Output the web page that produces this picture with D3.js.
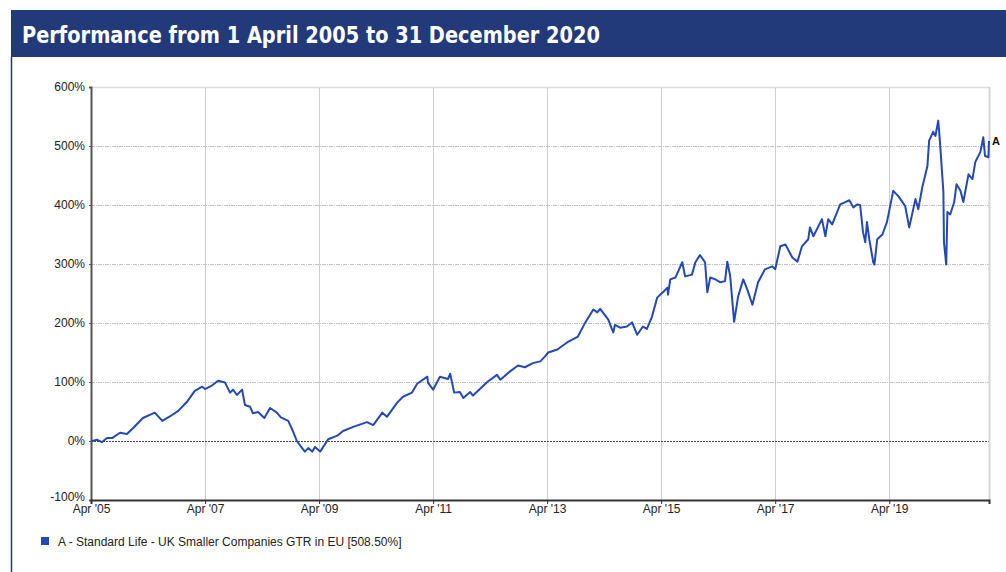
<!DOCTYPE html>
<html>
<head>
<meta charset="utf-8">
<script src="https://cdn.jsdelivr.net/npm/d3@7"></script>
<style>
  body { margin: 0; background: #fff; }
  text { font-family: "Liberation Sans", Arial, sans-serif; }
</style>
</head>
<body>
<svg width="1006" height="572"></svg>
<script>
// Chart data (decimal years, % growth)
const years = [
  2005.25, 2005.27, 2005.36, 2005.44, 2005.53, 2005.62, 2005.76, 2005.88, 2005.99, 2006.16,
  2006.37, 2006.50, 2006.64, 2006.78, 2006.93, 2007.07, 2007.20, 2007.25, 2007.37, 2007.48,
  2007.60, 2007.69, 2007.74, 2007.81, 2007.90, 2007.95, 2008.04, 2008.09, 2008.18, 2008.29,
  2008.39, 2008.51, 2008.58, 2008.71, 2008.79, 2008.86, 2009.00, 2009.06, 2009.13, 2009.18,
  2009.27, 2009.41, 2009.57, 2009.67, 2009.85, 2010.09, 2010.20, 2010.36, 2010.44, 2010.62,
  2010.72, 2010.88, 2010.97, 2011.15, 2011.16, 2011.25, 2011.37, 2011.51, 2011.55, 2011.62,
  2011.72, 2011.78, 2011.90, 2011.95, 2012.20, 2012.37, 2012.43, 2012.60, 2012.74, 2012.86,
  2013.00, 2013.13, 2013.21, 2013.27, 2013.43, 2013.60, 2013.79, 2013.92, 2014.06, 2014.13,
  2014.18, 2014.32, 2014.41, 2014.44, 2014.53, 2014.65, 2014.74, 2014.83, 2014.93, 2015.00,
  2015.09, 2015.18, 2015.29, 2015.36, 2015.37, 2015.41, 2015.50, 2015.62, 2015.67, 2015.79,
  2015.85, 2015.93, 2016.02, 2016.06, 2016.11, 2016.20, 2016.29, 2016.37, 2016.41, 2016.46,
  2016.53, 2016.60, 2016.69, 2016.76, 2016.85, 2016.95, 2017.07, 2017.20, 2017.25, 2017.34,
  2017.43, 2017.55, 2017.64, 2017.72, 2017.83, 2017.86, 2017.92, 2018.07, 2018.13, 2018.18,
  2018.25, 2018.39, 2018.48, 2018.55, 2018.62, 2018.69, 2018.74, 2018.79, 2018.83, 2018.86,
  2018.90, 2018.97, 2018.99, 2019.04, 2019.13, 2019.21, 2019.32, 2019.41, 2019.53, 2019.60,
  2019.71, 2019.76, 2019.83, 2019.92, 2019.95, 2020.02, 2020.06, 2020.11, 2020.14, 2020.20,
  2020.21, 2020.25, 2020.27, 2020.32, 2020.39, 2020.43, 2020.50, 2020.55, 2020.64, 2020.71,
  2020.76, 2020.85, 2020.90, 2020.93, 2020.99, 2021.00
];
const growth = [
  0, 0, 2, -2, 5, 5, 14, 12, 22, 39,
  48, 34, 42, 51, 66, 85, 92, 88, 94, 102,
  99, 82, 87, 78, 87, 61, 58, 47, 49, 39,
  56, 48, 40, 34, 17, 0, -18, -12, -18, -10,
  -18, 3, 9, 17, 24, 32, 27, 48, 41, 65,
  75, 82, 97, 109, 99, 87, 109, 105, 114, 82,
  83, 73, 83, 77, 100, 112, 104, 118, 128, 125,
  132, 135, 143, 150, 155, 167, 177, 201, 223, 218,
  224, 206, 184, 197, 192, 194, 201, 180, 194, 190,
  211, 243, 253, 260, 248, 274, 277, 303, 279, 282,
  303, 315, 303, 252, 277, 274, 269, 271, 304, 280,
  202, 245, 274, 257, 231, 269, 291, 296, 291, 330,
  333, 311, 304, 330, 342, 362, 347, 376, 347, 376,
  367, 401, 405, 408, 396, 401, 400, 354, 337, 371,
  342, 303, 299, 342, 350, 371, 424, 415, 398, 362,
  410, 393, 430, 466, 509, 524, 517, 543, 507, 422,
  337, 299, 388, 384, 405, 435, 424, 405, 452, 444,
  473, 490, 515, 483, 481, 508.5
];

const yTicks = [-100, 0, 100, 200, 300, 400, 500, 600];
const xTicks = [2005.25, 2007.25, 2009.25, 2011.25, 2013.25, 2015.25, 2017.25, 2019.25];
const xTickLabels = ["Apr '05", "Apr '07", "Apr '09", "Apr '11", "Apr '13", "Apr '15", "Apr '17", "Apr '19"];

const title = "Performance from 1 April 2005 to 31 December 2020";
const seriesName = "A - Standard Life - UK Smaller Companies GTR in EU [508.50%]";

const data = years.map((t, i) => ({ t: t, v: growth[i] }));

const svg = d3.select("svg");
const navy = "#233a7a";
const lineColor = "#2549b3";

// header bar and panel border
svg.append("rect")
  .attr("x", 11).attr("y", 10)
  .attr("width", 995).attr("height", 47)
  .attr("fill", navy);

svg.append("text")
  .attr("x", 22).attr("y", 43)
  .attr("fill", "#fff")
  .attr("font-weight", "bold")
  .attr("font-size", 23)
  .attr("textLength", 578)
  .attr("lengthAdjust", "spacingAndGlyphs")
  .style("font-family", "'DejaVu Sans Condensed', 'DejaVu Sans', sans-serif")
  .text(title);

svg.append("line")
  .attr("x1", 11.5).attr("x2", 11.5)
  .attr("y1", 57).attr("y2", 572)
  .attr("stroke", navy).attr("stroke-width", 1.5);

// scales
const plotL = 91, plotR = 989, plotT = 87, plotB = 500;
const x = d3.scaleLinear().domain([2005.25, 2021.0]).range([plotL, plotR]);
const y = d3.scaleLinear().domain([-100, 600]).range([plotB, plotT]);

// vertical grid
svg.append("g")
  .selectAll("line")
  .data(xTicks.slice(1))
  .join("line")
  .attr("x1", d => Math.round(x(d)) + 0.5).attr("x2", d => Math.round(x(d)) + 0.5)
  .attr("y1", plotT).attr("y2", plotB)
  .attr("stroke", "#cfcfcf").attr("stroke-width", 1);

// horizontal grid
svg.append("g")
  .selectAll("line")
  .data(yTicks.filter(d => d > -100 && d < 600))
  .join("line")
  .attr("x1", plotL).attr("x2", plotR)
  .attr("y1", d => Math.round(y(d)) + 0.5).attr("y2", d => Math.round(y(d)) + 0.5)
  .attr("stroke", d => d === 0 ? "#444" : "#c4c4c4")
  .attr("stroke-width", 1)
  .attr("stroke-dasharray", d => d === 0 ? "2,1" : "4,1,1,1");

// plot frame (top + right)
svg.append("line")
  .attr("x1", plotL).attr("x2", plotR + 1)
  .attr("y1", plotT + 0.5).attr("y2", plotT + 0.5)
  .attr("stroke", "#dcdcdc").attr("stroke-width", 1.5);
svg.append("line")
  .attr("x1", plotR + 0.5).attr("x2", plotR + 0.5)
  .attr("y1", plotT).attr("y2", plotB)
  .attr("stroke", "#d6d6d6").attr("stroke-width", 2);

// axes
const yAxis = svg.append("g")
  .attr("transform", `translate(${plotL},0)`)
  .call(d3.axisLeft(y).tickValues(yTicks).tickSize(2).tickFormat(d => d + "%"));
yAxis.select(".domain").attr("stroke", "#555").attr("stroke-width", 2);
yAxis.selectAll(".tick line").attr("stroke", "#555");
yAxis.selectAll("text")
  .attr("x", -6)
  .attr("dy", d => d === -100 ? "0.05em" : "0.32em")
  .attr("font-family", "'Liberation Sans', Arial, sans-serif")
  .attr("font-size", 12).attr("fill", "#222");

const xAxis = svg.append("g")
  .attr("transform", `translate(0,${plotB})`)
  .call(d3.axisBottom(x).tickValues(xTicks).tickSize(4).tickFormat((d, i) => xTickLabels[i]));
xAxis.select(".domain").attr("stroke", "#333").attr("stroke-width", 2);
xAxis.selectAll(".tick line").attr("stroke", "#333");
xAxis.selectAll("text")
  .attr("y", 4)
  .attr("font-family", "'Liberation Sans', Arial, sans-serif")
  .attr("font-size", 12).attr("fill", "#222");

// series line
const line = d3.line()
  .x(d => x(d.t))
  .y(d => y(d.v));

svg.append("path")
  .datum(data)
  .attr("fill", "none")
  .attr("stroke", lineColor)
  .attr("stroke-width", 2)
  .attr("stroke-linejoin", "round")
  .attr("d", line);

// end label
const last = data[data.length - 1];
svg.append("text")
  .attr("x", x(last.t) + 3)
  .attr("y", y(last.v) + 4)
  .attr("font-size", 11)
  .attr("font-weight", "bold")
  .attr("fill", "#111")
  .text("A");

// legend
svg.append("rect")
  .attr("x", 41).attr("y", 537)
  .attr("width", 8).attr("height", 8)
  .attr("fill", lineColor);
svg.append("text")
  .attr("x", 58).attr("y", 546)
  .attr("font-size", 12)
  .attr("fill", "#222")
  .text(seriesName);
</script>
</body>
</html>
